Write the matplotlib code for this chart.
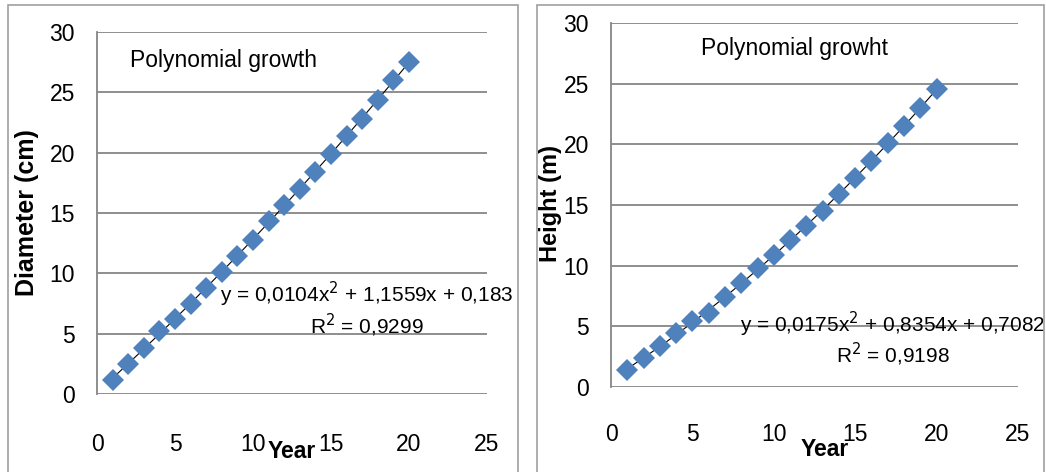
import numpy as np
import matplotlib
matplotlib.use("Agg")
import matplotlib.pyplot as plt
from matplotlib.patches import Rectangle

plt.rcParams['font.family'] = ['Liberation Sans', 'DejaVu Sans']

years = list(range(1, 21))
diameter = [1.2, 2.5, 3.8, 5.2, 6.2, 7.5, 8.8, 10.1, 11.4, 12.8,
            14.3, 15.7, 17.0, 18.4, 19.9, 21.4, 22.8, 24.4, 26.0, 27.5]
height = [1.4, 2.4, 3.4, 4.45, 5.4, 6.1, 7.4, 8.6, 9.8, 10.9,
          12.1, 13.3, 14.5, 15.9, 17.2, 18.6, 20.1, 21.5, 23.0, 24.6]
x_ticks = [0, 5, 10, 15, 20, 25]
y_ticks = [0, 5, 10, 15, 20, 25, 30]

left_title = "Polynomial growth"
right_title = "Polynomial growht"
left_eq = "y = 0,0104x$^{2}$ + 1,1559x + 0,183\nR$^{2}$ = 0,9299"
right_eq = "y = 0,0175x$^{2}$ + 0,8354x + 0,7082\nR$^{2}$ = 0,9198"

W, H = 1046, 472
fig = plt.figure(figsize=(W / 100, H / 100), dpi=100)
fig.patch.set_facecolor('white')

blue = '#4F81BD'
grid_c = '#868686'


def px_axes(x0, x1, ytop, ybot):
    return fig.add_axes([x0 / W, 1 - ybot / H, (x1 - x0) / W, (ybot - ytop) / H])


def style(ax, xpad, ypad):
    ax.set_xlim(0, 25)
    ax.set_ylim(0, 30)
    ax.set_xticks(x_ticks)
    ax.set_yticks(y_ticks)
    for s in ['top', 'right', 'bottom']:
        ax.spines[s].set_visible(False)
    ax.spines['left'].set_color(grid_c)
    ax.spines['left'].set_linewidth(1.3)
    ax.yaxis.grid(True, color=grid_c, linewidth=1.3)
    ax.set_axisbelow(True)
    ax.tick_params(axis='both', length=0, labelsize=16.5, colors='black')
    ax.tick_params(axis='x', pad=xpad)
    ax.tick_params(axis='y', pad=ypad)


def draw(ax, yvals):
    xs = np.array(years, dtype=float)
    coef = np.polyfit(xs, yvals, 2)
    xf = np.linspace(1, 20, 100)
    ax.plot(xf, np.polyval(coef, xf), color='black', lw=0.8, zorder=2)
    ax.plot(xs, yvals, linestyle='none', marker='D', markersize=11,
            color=blue, markeredgewidth=0, zorder=3)


# Left chart
axL = px_axes(97, 487, 32, 394)
style(axL, xpad=28, ypad=16)
draw(axL, diameter)
axL.text(8.1, 27.6, left_title, ha='center', va='center', fontsize=16.5)
axL.text(17.3, 7.0, left_eq, ha='center', va='center', fontsize=15,
         linespacing=1.1, clip_on=False)
fig.text(27 / W, 1 - 213 / H, "Diameter (cm)", ha='center', va='center',
         rotation=90, fontsize=18, fontweight='bold')
fig.text(292 / W, 1 - 452 / H, "Year", ha='center', va='center',
         fontsize=16.5, fontweight='bold')

# Right chart
axR = px_axes(611, 1018, 23, 387)
style(axR, xpad=26, ypad=16)
draw(axR, height)
axR.text(11.3, 27.9, right_title, ha='center', va='center', fontsize=16.5)
axR.text(17.3, 3.95, right_eq, ha='center', va='center', fontsize=15,
         linespacing=1.1, clip_on=False)
fig.text(551 / W, 1 - 203 / H, "Height (m)", ha='center', va='center',
         rotation=90, fontsize=17, fontweight='bold')
fig.text(825 / W, 1 - 450 / H, "Year", ha='center', va='center',
         fontsize=16.5, fontweight='bold')

# Chart borders
fig.patches.append(Rectangle((8 / W, -0.01), (518 - 8) / W, 1 - 5 / H + 0.01,
                             transform=fig.transFigure, fill=False,
                             edgecolor='#A0A0A0', linewidth=1.2))
fig.patches.append(Rectangle((537 / W, -0.01), (1044 - 537) / W, 1 - 5 / H + 0.01,
                             transform=fig.transFigure, fill=False,
                             edgecolor='#A0A0A0', linewidth=1.2))

fig.savefig("out.png", dpi=100, facecolor='white')
